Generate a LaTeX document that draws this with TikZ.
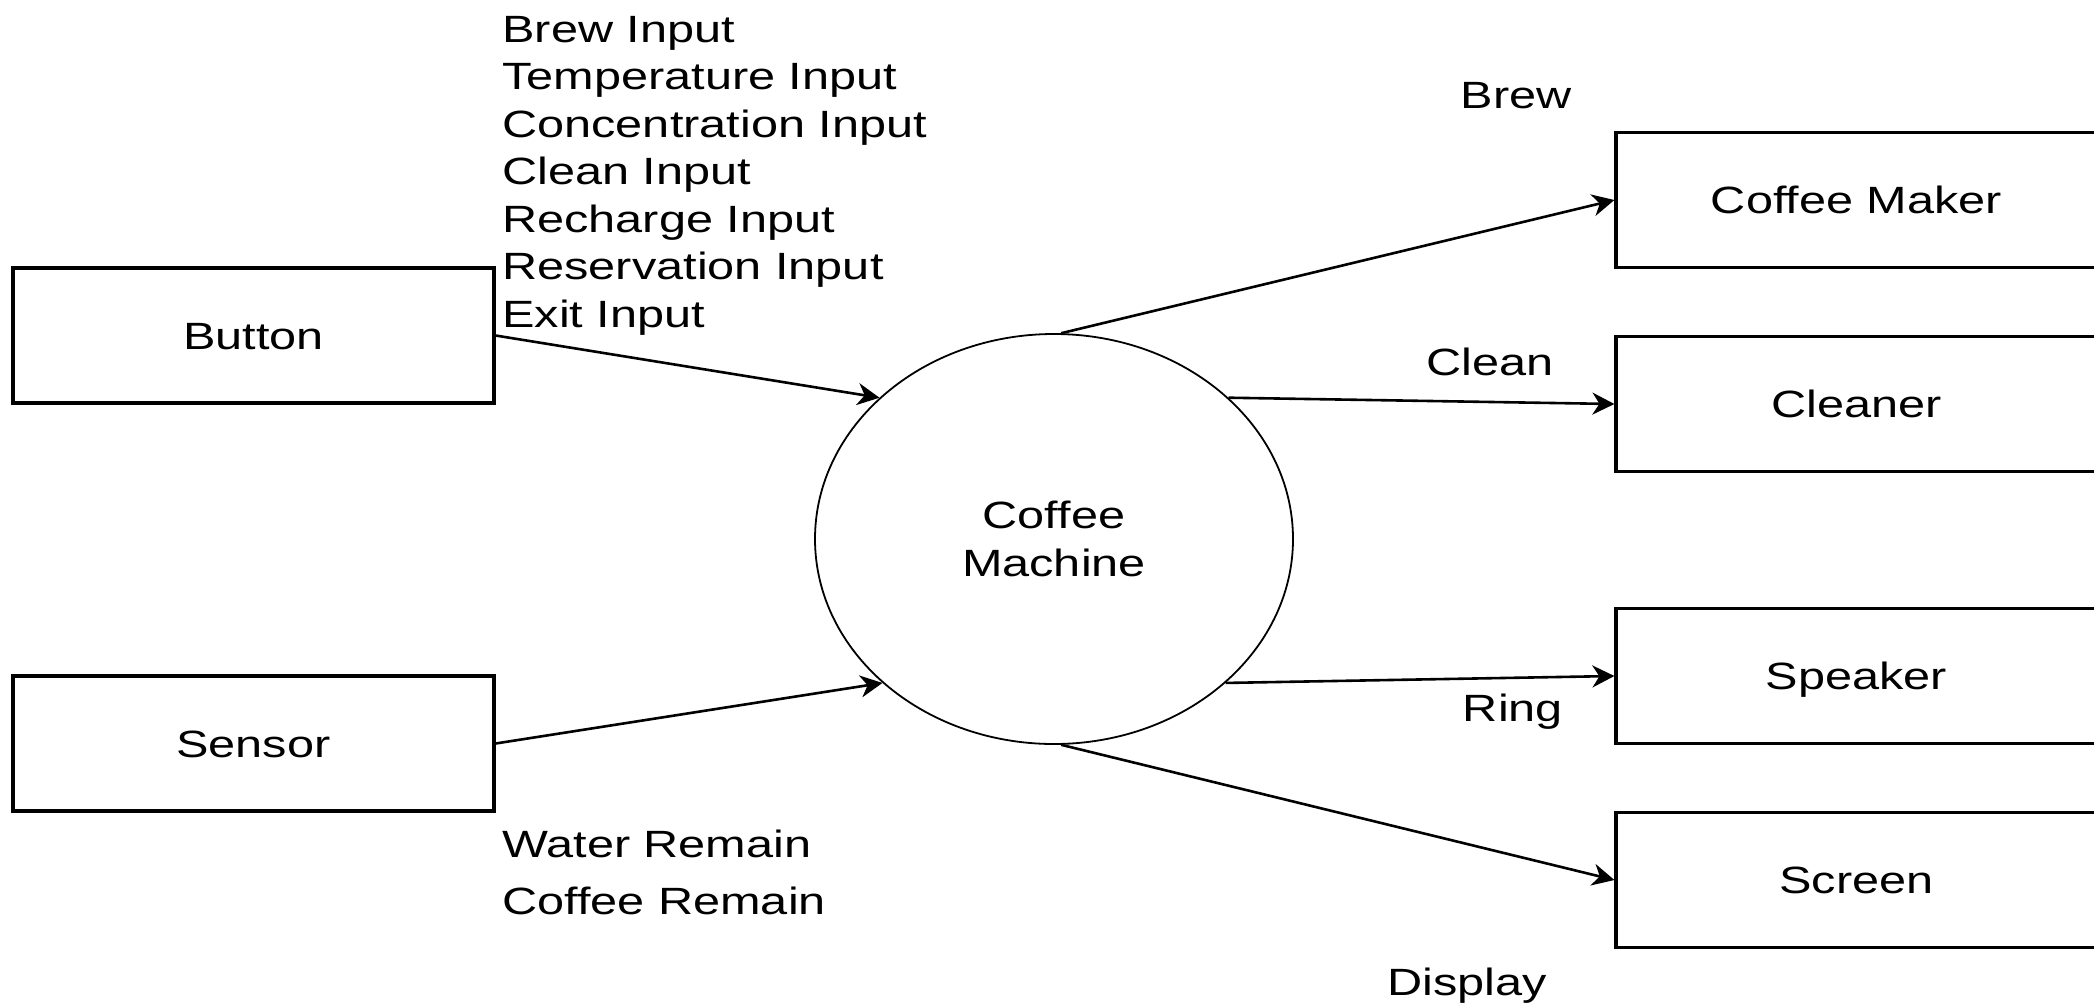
\documentclass[tikz,border=0pt]{standalone}
\usepackage{fontspec}
\setmainfont{Liberation Sans}
\usetikzlibrary{arrows.meta,shapes.geometric}
\newcommand\wtxt[1]{\scalebox{1.28}[1]{#1}}
\begin{document}
\begin{tikzpicture}[x=0.5pt,y=-0.5pt,
  every node/.style={font=\fontsize{19}{23.75}\selectfont, inner sep=0pt},
  entity/.style={draw, line width=1.6pt, minimum width=240.5pt, minimum height=67.5pt, text height=13.6pt, text depth=0pt},
  proc/.style={draw, ellipse, line width=0.9pt, minimum width=239pt, minimum height=205pt, align=center},
  flow/.style={line width=1.3pt, -{Stealth[length=11pt,width=11pt,inset=3.5pt]}},
  lbl/.style={anchor=base}]
\useasboundingbox (0,0) rectangle (2094,1002);

\node[entity] (button) at (253.5,335.5) {\wtxt{Button}};
\node[entity] (sensor) at (253.5,743.5) {\wtxt{Sensor}};
\node[entity] (maker) at (1856.5,200) {\wtxt{Coffee Maker}};
\node[entity] (cleaner) at (1856.5,404) {\wtxt{Cleaner}};
\node[entity] (speaker) at (1856.5,676) {\wtxt{Speaker}};
\node[entity] (screen) at (1856.5,880) {\wtxt{Screen}};
\node[proc] (cm) at (1054,539) {\wtxt{Coffee}\\\wtxt{Machine}};

\draw[flow] (button.east) -- (cm.141);
\draw[flow] (sensor.east) -- (cm.220);
\draw[flow] (cm.88) -- (maker.west);
\draw[flow] (cm.39) -- (cleaner.west);
\draw[flow] (cm.320) -- (speaker.west);
\draw[flow] (cm.272) -- (screen.west);

\node[anchor=base west] (inputs) at (502,42) {\begin{tabular}[t]{@{}l@{}}
\wtxt{Brew Input}\\
\wtxt{Temperature Input}\\
\wtxt{Concentration Input}\\
\wtxt{Clean Input}\\
\wtxt{Recharge Input}\\
\wtxt{Reservation Input}\\
\wtxt{Exit Input}
\end{tabular}};
\node[anchor=base west] (remain) at (502,857) {\fontsize{19}{28.5}\selectfont\begin{tabular}[t]{@{}l@{}}
\wtxt{Water Remain}\\
\wtxt{Coffee Remain}
\end{tabular}};

\node[lbl] (lbrew) at (1516,108) {\wtxt{Brew}};
\node[lbl] (lclean) at (1490,375) {\wtxt{Clean}};
\node[lbl] (lring) at (1513,721) {\wtxt{Ring}};
\node[lbl] (ldisplay) at (1467,995) {\wtxt{Display}};
\end{tikzpicture}
\end{document}
